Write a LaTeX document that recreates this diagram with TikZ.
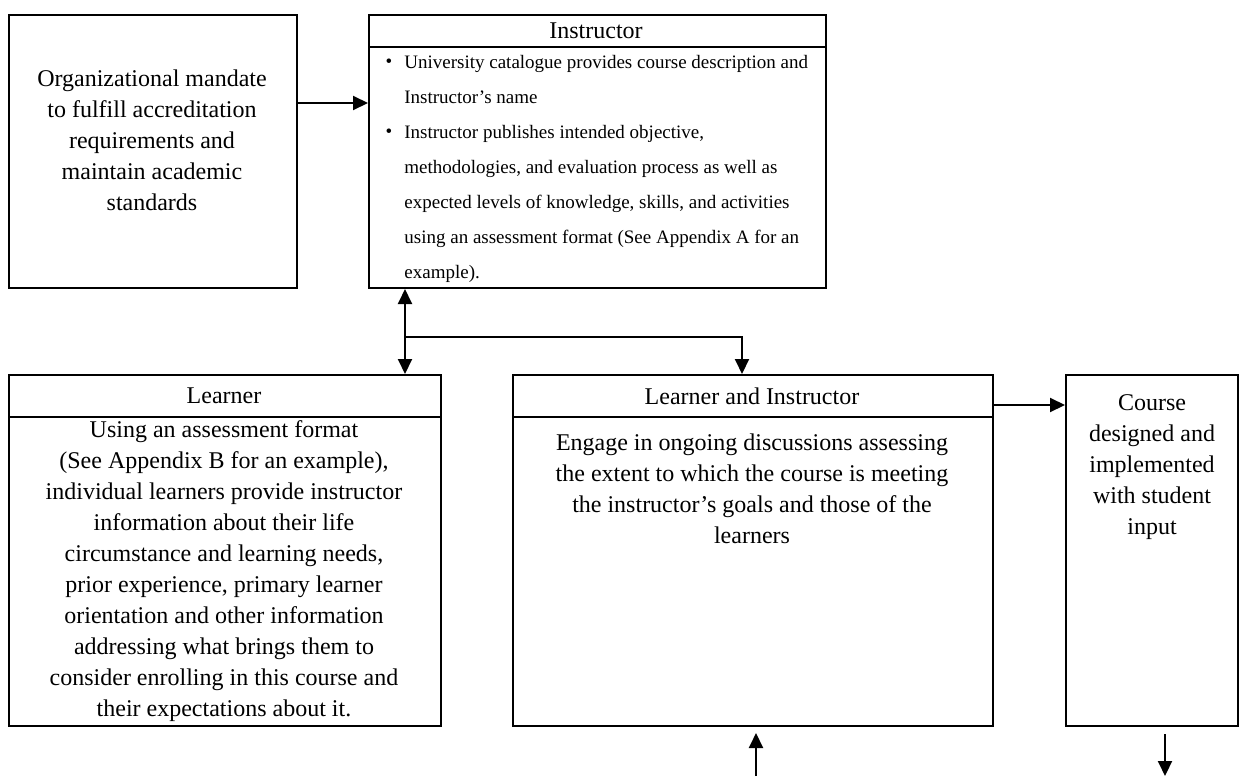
\documentclass[tikz,border=0pt]{standalone}
\usepackage{fontspec}
\setmainfont{Liberation Serif}
\usetikzlibrary{arrows.meta,calc}
\begin{document}
\begin{tikzpicture}[x=0.5pt,y=-0.5pt,
  box/.style={draw,line width=1pt,anchor=north west,inner sep=0pt},
  arr/.style={line width=1pt,-{Triangle[length=7.5pt,width=7pt]}},
  arrtwo/.style={line width=1pt,{Triangle[length=7.5pt,width=7pt]}-{Triangle[length=7.5pt,width=7pt]}},
  rule/.style={line width=1pt},
  txt/.style={font=\fontsize{12}{15.5}\selectfont,align=center,inner sep=0pt},
  head/.style={font=\fontsize{12}{14}\selectfont,inner sep=0pt},
  ltxt/.style={font=\fontsize{9.5}{17.5}\selectfont,align=left,inner sep=0pt,anchor=west}]
\useasboundingbox (0,0) rectangle (1241,776);
% boxes
\node[box,minimum width=144pt,minimum height=136.5pt] (b1) at (8,14) {};
\node[box,minimum width=228.5pt,minimum height=136.5pt] (ins) at (368,14) {};
\node[box,minimum width=216pt,minimum height=175.5pt] (lrn) at (8,374) {};
\node[box,minimum width=240pt,minimum height=175.5pt] (lai) at (512,374) {};
\node[box,minimum width=86pt,minimum height=175.5pt] (crs) at (1065,374) {};
% header rules
\draw[rule] ($(ins.north west)+(0,33)$) -- ($(ins.north east)+(0,33)$);
\draw[rule] ($(lrn.north west)+(0,43)$) -- ($(lrn.north east)+(0,43)$);
\draw[rule] ($(lai.north west)+(0,43)$) -- ($(lai.north east)+(0,43)$);
% texts
\node[txt] (t1) at (152,140) {Organizational mandate\\to fulfill accreditation\\requirements and\\maintain academic\\standards};
\node[head] (t2) at (596,31) {Instructor};
\node[ltxt] (t3) at (404,169) {University catalogue provides course description and\\Instructor’s name\\Instructor publishes intended objective,\\methodologies, and evaluation process as well as\\expected levels of knowledge, skills, and activities\\using an assessment format (See Appendix A for an\\example).};
\node[head,font=\fontsize{9.5}{11}\selectfont] (bu1) at (389,63) {\textbullet};
\node[head,font=\fontsize{9.5}{11}\selectfont] (bu2) at (389,133) {\textbullet};
\node[head] (t4) at (224,396) {Learner};
\node[txt] (t5) at (224,571) {Using an assessment format\\(See Appendix B for an example),\\individual learners provide instructor\\information about their life\\circumstance and learning needs,\\prior experience, primary learner\\orientation and other information\\addressing what brings them to\\consider enrolling in this course and\\their expectations about it.};
\node[head] (t6) at (752,396) {Learner and Instructor};
\node[txt] (t7) at (752,489) {Engage in ongoing discussions assessing\\the extent to which the course is meeting\\the instructor’s goals and those of the\\learners};
\node[txt] (t8) at (1152,467) {Course\\designed and\\implemented\\with student\\input};
% helper coordinates
\coordinate (y1) at (0,103);
\coordinate (x405) at (405,0);
\coordinate (br) at (405,337);
\coordinate (x742) at (742,0);
\coordinate (y405) at (0,405);
\coordinate (u0) at (756,776);
\coordinate (u1) at (756,733);
\coordinate (d0) at (1165,734);
\coordinate (d1) at (1165,776);
% connectors
\draw[arr] (b1.east |- y1) -- (ins.west |- y1);
\draw[arrtwo] (ins.south -| x405) -- (lrn.north -| x405);
\draw[arr] (br) -| (lai.north -| x742);
\draw[arr] (lai.east |- y405) -- (crs.west |- y405);
\draw[arr] (u0) -- (u1);
\draw[arr] (d0) -- (d1);
\end{tikzpicture}
\end{document}
